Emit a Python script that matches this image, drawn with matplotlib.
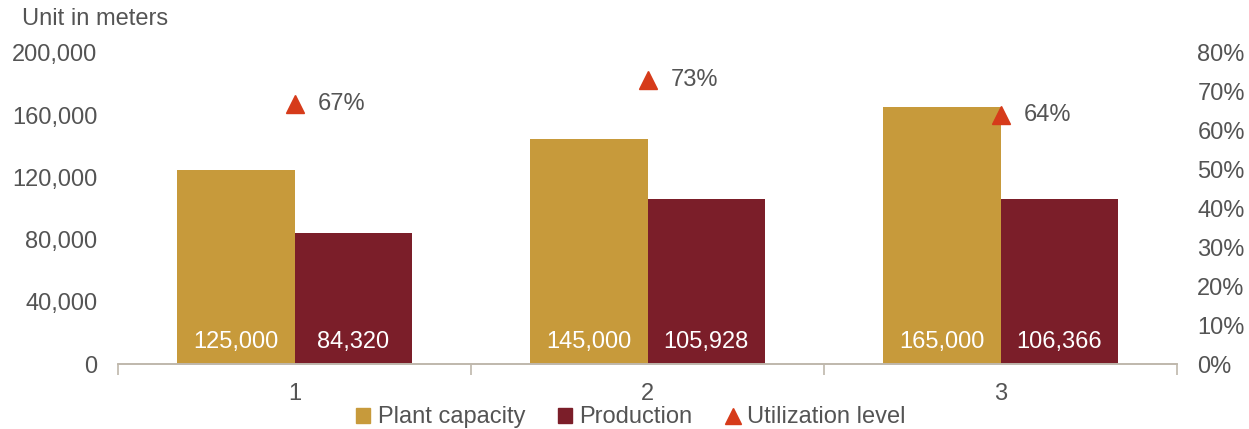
import matplotlib
matplotlib.use("Agg")
import matplotlib.pyplot as plt
import numpy as np
from matplotlib.lines import Line2D
from matplotlib.patches import Patch

plt.rcParams['font.family'] = ['Liberation Sans', 'DejaVu Sans']

categories = ['1', '2', '3']
capacity = [125000, 145000, 165000]
production = [84320, 105928, 106366]
utilization = [0.67, 0.73, 0.64]
util_labels = ['67%', '73%', '64%']

c_cap = '#C79A3B'
c_prod = '#7B1E29'
c_util = '#D63B1A'
c_text = '#545454'
c_axis = '#BFB8AC'

fig = plt.figure(figsize=(12.49, 4.29), dpi=100)
ax = fig.add_axes([0.0945, 0.1515, 0.848, 0.725])
ax2 = ax.twinx()

x = np.arange(1, len(categories) + 1)
w = 0.332
b1 = ax.bar(x - w / 2, capacity, w, color=c_cap)
b2 = ax.bar(x + w / 2, production, w, color=c_prod)

for xi, v in zip(x, capacity):
    ax.text(xi - w / 2, 7000, f'{v:,}', color='white', ha='center', va='bottom', fontsize=17)
for xi, v in zip(x, production):
    ax.text(xi + w / 2, 7000, f'{v:,}', color='white', ha='center', va='bottom', fontsize=17)

ax2.plot(x, utilization, linestyle='none', marker='^', markersize=13, color=c_util)
for xi, u, lab in zip(x, utilization, util_labels):
    ax2.text(xi + 0.065, u, lab, color=c_text, ha='left', va='center', fontsize=17)

ax.set_xlim(0.5, 3.5)
ax.set_ylim(0, 200000)
ax2.set_ylim(0, 0.8)
ax.set_yticks(np.arange(0, 200001, 40000))
ax.set_yticklabels([f'{v:,}' for v in range(0, 200001, 40000)])
ax2.set_yticks(np.arange(0, 0.81, 0.1))
ax2.set_yticklabels([f'{int(round(v * 100))}%' for v in np.arange(0, 0.81, 0.1)])

ax.set_xticks(x)
ax.set_xticklabels(categories)
ax.set_xticks([0.5, 1.5, 2.5, 3.5], minor=True)
ax.tick_params(axis='x', which='major', length=0, pad=14, labelsize=17, labelcolor=c_text)
ax.tick_params(axis='x', which='minor', length=8, color=c_axis, width=1.2)
ax.tick_params(axis='y', length=0, pad=15, labelsize=17, labelcolor=c_text)
ax2.tick_params(axis='y', length=0, pad=14.5, labelsize=17, labelcolor=c_text)

for a in (ax, ax2):
    for s in ['top', 'left', 'right']:
        a.spines[s].set_visible(False)
    a.spines['bottom'].set_color(c_axis)
    a.spines['bottom'].set_linewidth(1.2)

fig.text(0.018, 0.955, 'Unit in meters', color=c_text, fontsize=17, ha='left', va='center')

handles = [Patch(color=c_cap), Patch(color=c_prod),
           Line2D([], [], linestyle='none', marker='^', markersize=11, color=c_util)]
fig.legend(handles, ['Plant capacity', 'Production', 'Utilization level'],
           loc='center', bbox_to_anchor=(0.505, 0.027), ncol=3, frameon=False,
           fontsize=17, labelcolor=c_text, handlelength=0.6, handleheight=0.6,
           handletextpad=0.3, columnspacing=1.4)

fig.savefig('out.png', dpi=100)
